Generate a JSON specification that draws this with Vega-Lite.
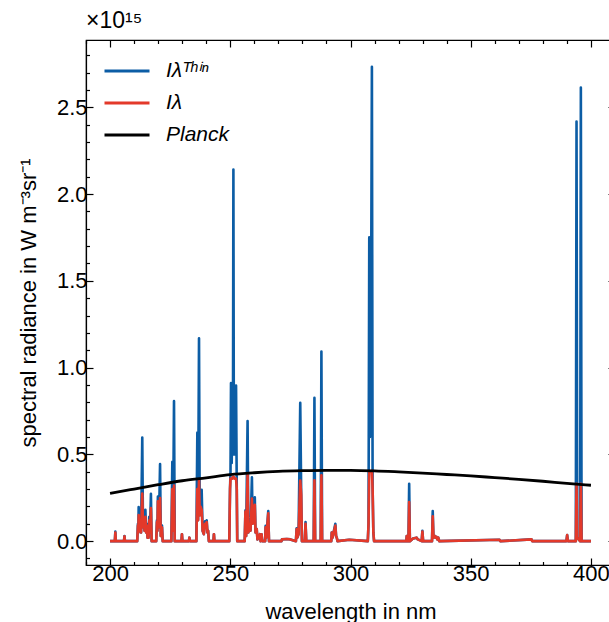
{
  "$schema": "https://vega.github.io/schema/vega-lite/v6.json",
  "autosize": {"type": "none"},
  "padding": {"left": 86, "top": 40, "right": 0, "bottom": 57},
  "width": 529,
  "height": 525,
  "title": {"text": "×10¹⁵", "anchor": "start", "frame": "group", "offset": 6, "fontSize": 23, "fontWeight": "normal", "font": "Liberation Sans", "color": "black"},
  "datasets": {
    "spec": [
      {"wl": 200.0, "thin": 0, "i": 0},
      {"wl": 202.0, "thin": 0, "i": 0},
      {"wl": 202.2, "thin": 0.055, "i": 0.05},
      {"wl": 202.4, "thin": 0, "i": 0},
      {"wl": 205.8, "thin": 0, "i": 0},
      {"wl": 206.0, "thin": 0.03, "i": 0.028},
      {"wl": 206.2, "thin": 0, "i": 0},
      {"wl": 211.3, "thin": 0, "i": 0},
      {"wl": 211.6, "thin": 0.10, "i": 0.09},
      {"wl": 211.75, "thin": 0.05, "i": 0.05},
      {"wl": 211.9, "thin": 0.196, "i": 0.15},
      {"wl": 212.2, "thin": 0.06, "i": 0.06},
      {"wl": 212.6, "thin": 0.12, "i": 0.11},
      {"wl": 212.9, "thin": 0.05, "i": 0.05},
      {"wl": 213.4, "thin": 0.597, "i": 0.274},
      {"wl": 213.7, "thin": 0.08, "i": 0.08},
      {"wl": 214.0, "thin": 0.15, "i": 0.13},
      {"wl": 214.35, "thin": 0.06, "i": 0.06},
      {"wl": 214.7, "thin": 0.18, "i": 0.14},
      {"wl": 215.0, "thin": 0.05, "i": 0.05},
      {"wl": 215.3, "thin": 0.10, "i": 0.09},
      {"wl": 215.6, "thin": 0.02, "i": 0.02},
      {"wl": 216.0, "thin": 0.02, "i": 0.02},
      {"wl": 216.3, "thin": 0.14, "i": 0.12},
      {"wl": 216.6, "thin": 0.05, "i": 0.05},
      {"wl": 217.0, "thin": 0.273, "i": 0.19},
      {"wl": 217.3, "thin": 0, "i": 0},
      {"wl": 219.2, "thin": 0, "i": 0},
      {"wl": 219.5, "thin": 0.12, "i": 0.11},
      {"wl": 219.7, "thin": 0.06, "i": 0.06},
      {"wl": 219.9, "thin": 0.257, "i": 0.23},
      {"wl": 220.3, "thin": 0.08, "i": 0.08},
      {"wl": 220.8, "thin": 0.444, "i": 0.248},
      {"wl": 221.1, "thin": 0.03, "i": 0.03},
      {"wl": 221.6, "thin": 0.09, "i": 0.08},
      {"wl": 221.9, "thin": 0, "i": 0},
      {"wl": 225.5, "thin": 0, "i": 0},
      {"wl": 225.9, "thin": 0.457, "i": 0.30},
      {"wl": 226.2, "thin": 0.06, "i": 0.06},
      {"wl": 226.6, "thin": 0.807, "i": 0.32},
      {"wl": 226.9, "thin": 0, "i": 0},
      {"wl": 229.7, "thin": 0, "i": 0},
      {"wl": 229.9, "thin": 0.04, "i": 0.04},
      {"wl": 230.1, "thin": 0, "i": 0},
      {"wl": 232.8, "thin": 0, "i": 0},
      {"wl": 233.0, "thin": 0.02, "i": 0.02},
      {"wl": 233.2, "thin": 0, "i": 0},
      {"wl": 235.9, "thin": 0, "i": 0},
      {"wl": 236.3, "thin": 0.625, "i": 0.30},
      {"wl": 236.6, "thin": 0.12, "i": 0.12},
      {"wl": 237.0, "thin": 1.169, "i": 0.355},
      {"wl": 237.3, "thin": 0.15, "i": 0.15},
      {"wl": 237.6, "thin": 0.2, "i": 0.2},
      {"wl": 238.1, "thin": 0.296, "i": 0.18},
      {"wl": 238.5, "thin": 0.06, "i": 0.06},
      {"wl": 239.0, "thin": 0.04, "i": 0.04},
      {"wl": 239.5, "thin": 0.114, "i": 0.10},
      {"wl": 239.8, "thin": 0.08, "i": 0.08},
      {"wl": 240.2, "thin": 0.12, "i": 0.11},
      {"wl": 240.5, "thin": 0.05, "i": 0.05},
      {"wl": 240.8, "thin": 0.06, "i": 0.06},
      {"wl": 241.1, "thin": 0, "i": 0},
      {"wl": 243.0, "thin": 0, "i": 0},
      {"wl": 243.2, "thin": 0.04, "i": 0.04},
      {"wl": 243.4, "thin": 0, "i": 0},
      {"wl": 249.6, "thin": 0, "i": 0},
      {"wl": 249.9, "thin": 0.30, "i": 0.30},
      {"wl": 250.1, "thin": 0.4, "i": 0.36},
      {"wl": 250.3, "thin": 0.911, "i": 0.36},
      {"wl": 250.6, "thin": 0.45, "i": 0.36},
      {"wl": 250.9, "thin": 0.88, "i": 0.36},
      {"wl": 251.1, "thin": 0.5, "i": 0.37},
      {"wl": 251.3, "thin": 2.141, "i": 0.37},
      {"wl": 251.5, "thin": 0.5, "i": 0.37},
      {"wl": 251.8, "thin": 0.86, "i": 0.36},
      {"wl": 252.1, "thin": 0.5, "i": 0.36},
      {"wl": 252.4, "thin": 0.896, "i": 0.36},
      {"wl": 252.7, "thin": 0.3, "i": 0.3},
      {"wl": 252.9, "thin": 0, "i": 0},
      {"wl": 256.0, "thin": 0, "i": 0},
      {"wl": 256.3, "thin": 0.177, "i": 0.17},
      {"wl": 256.6, "thin": 0.03, "i": 0.03},
      {"wl": 257.2, "thin": 0.692, "i": 0.387},
      {"wl": 257.5, "thin": 0.05, "i": 0.05},
      {"wl": 258.0, "thin": 0.10, "i": 0.09},
      {"wl": 258.4, "thin": 0.06, "i": 0.06},
      {"wl": 259.0, "thin": 0.368, "i": 0.245},
      {"wl": 259.3, "thin": 0.10, "i": 0.10},
      {"wl": 259.8, "thin": 0.15, "i": 0.14},
      {"wl": 260.2, "thin": 0.253, "i": 0.21},
      {"wl": 260.5, "thin": 0.05, "i": 0.05},
      {"wl": 261.0, "thin": 0.07, "i": 0.07},
      {"wl": 261.3, "thin": 0.01, "i": 0.01},
      {"wl": 262.3, "thin": 0.04, "i": 0.04},
      {"wl": 262.6, "thin": 0, "i": 0},
      {"wl": 263.0, "thin": 0.04, "i": 0.04},
      {"wl": 263.3, "thin": 0, "i": 0},
      {"wl": 264.5, "thin": 0, "i": 0},
      {"wl": 264.7, "thin": 0.088, "i": 0.08},
      {"wl": 265.0, "thin": 0.02, "i": 0.02},
      {"wl": 265.8, "thin": 0.173, "i": 0.16},
      {"wl": 266.1, "thin": 0, "i": 0},
      {"wl": 271.3, "thin": 0, "i": 0},
      {"wl": 271.5, "thin": 0.01, "i": 0.01},
      {"wl": 273.5, "thin": 0.012, "i": 0.012},
      {"wl": 275.0, "thin": 0.01, "i": 0.01},
      {"wl": 277.3, "thin": 0, "i": 0},
      {"wl": 277.6, "thin": 0.074, "i": 0.07},
      {"wl": 277.9, "thin": 0.02, "i": 0.02},
      {"wl": 278.4, "thin": 0.04, "i": 0.04},
      {"wl": 279.1, "thin": 0.797, "i": 0.349},
      {"wl": 279.5, "thin": 0.27, "i": 0.27},
      {"wl": 279.8, "thin": 0, "i": 0},
      {"wl": 281.0, "thin": 0, "i": 0},
      {"wl": 281.3, "thin": 0.11, "i": 0.10},
      {"wl": 281.6, "thin": 0, "i": 0},
      {"wl": 284.7, "thin": 0, "i": 0},
      {"wl": 285.0, "thin": 0.826, "i": 0.35},
      {"wl": 285.3, "thin": 0, "i": 0},
      {"wl": 287.6, "thin": 0, "i": 0},
      {"wl": 287.9, "thin": 1.093, "i": 0.38},
      {"wl": 288.2, "thin": 0, "i": 0},
      {"wl": 292.0, "thin": 0, "i": 0},
      {"wl": 292.2, "thin": 0.05, "i": 0.05},
      {"wl": 292.5, "thin": 0.02, "i": 0.02},
      {"wl": 293.7, "thin": 0.10, "i": 0.09},
      {"wl": 294.0, "thin": 0.03, "i": 0.03},
      {"wl": 294.3, "thin": 0.02, "i": 0.02},
      {"wl": 294.6, "thin": 0, "i": 0},
      {"wl": 299.5, "thin": 0.008, "i": 0.008},
      {"wl": 307.2, "thin": 0, "i": 0},
      {"wl": 307.5, "thin": 0.1, "i": 0.1},
      {"wl": 307.8, "thin": 1.75, "i": 0.40},
      {"wl": 308.1, "thin": 0.6, "i": 0.40},
      {"wl": 308.4, "thin": 0.7, "i": 0.40},
      {"wl": 308.9, "thin": 2.733, "i": 0.405},
      {"wl": 309.2, "thin": 0.3, "i": 0.3},
      {"wl": 309.5, "thin": 0.05, "i": 0.05},
      {"wl": 309.8, "thin": 0, "i": 0},
      {"wl": 323.2, "thin": 0, "i": 0},
      {"wl": 323.4, "thin": 0.03, "i": 0.03},
      {"wl": 323.7, "thin": 0, "i": 0},
      {"wl": 324.1, "thin": 0, "i": 0},
      {"wl": 324.4, "thin": 0.33, "i": 0.225},
      {"wl": 324.7, "thin": 0, "i": 0},
      {"wl": 326.0, "thin": 0.015, "i": 0.015},
      {"wl": 327.5, "thin": 0.02, "i": 0.02},
      {"wl": 328.0, "thin": 0.01, "i": 0.01},
      {"wl": 329.6, "thin": 0, "i": 0},
      {"wl": 329.9, "thin": 0.059, "i": 0.055},
      {"wl": 330.2, "thin": 0, "i": 0},
      {"wl": 333.9, "thin": 0, "i": 0},
      {"wl": 334.2, "thin": 0.173, "i": 0.143},
      {"wl": 334.5, "thin": 0.02, "i": 0.02},
      {"wl": 335.0, "thin": 0.03, "i": 0.03},
      {"wl": 335.4, "thin": 0.02, "i": 0.02},
      {"wl": 335.7, "thin": 0.025, "i": 0.025},
      {"wl": 336.1, "thin": 0.01, "i": 0.01},
      {"wl": 336.5, "thin": 0.02, "i": 0.02},
      {"wl": 336.9, "thin": 0, "i": 0},
      {"wl": 362.0, "thin": 0.008, "i": 0.008},
      {"wl": 362.3, "thin": 0, "i": 0},
      {"wl": 375.3, "thin": 0.01, "i": 0.01},
      {"wl": 375.6, "thin": 0, "i": 0},
      {"wl": 389.8, "thin": 0, "i": 0},
      {"wl": 390.1, "thin": 0.035, "i": 0.035},
      {"wl": 390.4, "thin": 0, "i": 0},
      {"wl": 393.7, "thin": 0, "i": 0},
      {"wl": 394.0, "thin": 2.418, "i": 0.33},
      {"wl": 394.3, "thin": 0.02, "i": 0.02},
      {"wl": 395.5, "thin": 0, "i": 0},
      {"wl": 395.8, "thin": 2.614, "i": 0.33},
      {"wl": 396.1, "thin": 0, "i": 0},
      {"wl": 400.0, "thin": 0, "i": 0}
    ],
    "planck": [
      {"wl": 200, "planck": 0.275},
      {"wl": 210, "planck": 0.300},
      {"wl": 220, "planck": 0.325},
      {"wl": 230, "planck": 0.348},
      {"wl": 240, "planck": 0.365},
      {"wl": 250, "planck": 0.383},
      {"wl": 260, "planck": 0.394},
      {"wl": 270, "planck": 0.402},
      {"wl": 280, "planck": 0.406},
      {"wl": 290, "planck": 0.408},
      {"wl": 300, "planck": 0.408},
      {"wl": 310, "planck": 0.405},
      {"wl": 320, "planck": 0.399},
      {"wl": 330, "planck": 0.392},
      {"wl": 340, "planck": 0.384},
      {"wl": 350, "planck": 0.376},
      {"wl": 360, "planck": 0.366},
      {"wl": 370, "planck": 0.356},
      {"wl": 380, "planck": 0.345},
      {"wl": 390, "planck": 0.333},
      {"wl": 400, "planck": 0.322}
    ]
  },
  "layer": [
    {
      "data": {"name": "spec"},
      "mark": {"type": "line", "strokeWidth": 2.6, "strokeJoin": "round", "clip": true},
      "encoding": {
        "x": {
          "field": "wl", "type": "quantitative",
          "scale": {"domain": [190, 410], "nice": false, "zero": false},
          "axis": {
            "orient": "bottom",
            "title": "wavelength in nm",
            "values": [190, 200, 210, 220, 230, 240, 250, 260, 270, 280, 290, 300, 310, 320, 330, 340, 350, 360, 370, 380, 390, 400, 410],
            "labelExpr": "datum.value % 50 === 0 ? format(datum.value, 'd') : ''",
            "tickSize": {"condition": {"test": "datum.value % 50 === 0", "value": -7}, "value": -3.5},
            "labelPadding": 5,
            "titlePadding": 14
          }
        },
        "y": {
          "field": "thin", "type": "quantitative",
          "scale": {"domain": [-0.1375, 2.8875], "nice": false, "zero": false},
          "axis": {
            "orient": "left",
            "title": "spectral radiance in W m⁻³sr⁻¹",
            "values": [-0.1, 0, 0.1, 0.2, 0.3, 0.4, 0.5, 0.6, 0.7, 0.8, 0.9, 1.0, 1.1, 1.2, 1.3, 1.4, 1.5, 1.6, 1.7, 1.8, 1.9, 2.0, 2.1, 2.2, 2.3, 2.4, 2.5, 2.6, 2.7, 2.8],
            "labelExpr": "abs(datum.value * 2 - round(datum.value * 2)) < 0.001 ? format(datum.value, '.1f') : ''",
            "tickSize": {"condition": {"test": "abs(datum.value * 2 - round(datum.value * 2)) < 0.001", "value": -7}, "value": -3.5},
            "labelPadding": 6,
            "titlePadding": 16
          }
        },
        "color": {
          "datum": "Iλᵀʰⁱⁿ",
          "scale": {"domain": ["Iλᵀʰⁱⁿ", "Iλ", "Planck"], "range": ["#0C5DA5", "#E3392A", "#000000"]},
          "legend": {
            "title": null,
            "orient": "none",
            "legendX": 17,
            "legendY": 16,
            "symbolType": "stroke",
            "symbolSize": 2025,
            "symbolStrokeWidth": 3,
            "labelFont": "Liberation Sans",
            "labelFontSize": 21,
            "labelFontStyle": "italic",
            "labelColor": "black",
            "labelOffset": 15,
            "clipHeight": 30,
            "rowPadding": 2
          }
        }
      }
    },
    {
      "data": {"name": "spec"},
      "mark": {"type": "line", "strokeWidth": 2.6, "strokeJoin": "round", "clip": true},
      "encoding": {
        "x": {
          "field": "wl", "type": "quantitative",
          "axis": {
            "orient": "top",
            "title": null,
            "labels": false,
            "values": [190, 200, 210, 220, 230, 240, 250, 260, 270, 280, 290, 300, 310, 320, 330, 340, 350, 360, 370, 380, 390, 400, 410],
            "tickSize": {"condition": {"test": "datum.value % 50 === 0", "value": -7}, "value": -3.5}
          }
        },
        "y": {
          "field": "i", "type": "quantitative",
          "axis": {
            "orient": "right",
            "title": null,
            "labels": false,
            "values": [-0.1, 0, 0.1, 0.2, 0.3, 0.4, 0.5, 0.6, 0.7, 0.8, 0.9, 1.0, 1.1, 1.2, 1.3, 1.4, 1.5, 1.6, 1.7, 1.8, 1.9, 2.0, 2.1, 2.2, 2.3, 2.4, 2.5, 2.6, 2.7, 2.8],
            "tickSize": {"condition": {"test": "abs(datum.value * 2 - round(datum.value * 2)) < 0.001", "value": -7}, "value": -3.5}
          }
        },
        "color": {"datum": "Iλ"}
      }
    },
    {
      "data": {"name": "planck"},
      "mark": {"type": "line", "strokeWidth": 2.8, "interpolate": "monotone", "clip": true},
      "encoding": {
        "x": {"field": "wl", "type": "quantitative", "axis": null},
        "y": {"field": "planck", "type": "quantitative", "axis": null},
        "color": {"datum": "Planck"}
      }
    }
  ],
  "resolve": {"axis": {"x": "independent", "y": "independent"}},
  "config": {
    "view": {"stroke": "black", "strokeWidth": 1.2},
    "axis": {
      "grid": false,
      "domainColor": "black",
      "domainWidth": 1.2,
      "tickColor": "black",
      "tickWidth": 1.2,
      "labelFont": "Liberation Sans",
      "labelFontSize": 22,
      "labelColor": "black",
      "labelFlush": false,
      "labelOverlap": false,
      "titleFont": "Liberation Sans",
      "titleFontSize": 22,
      "titleFontWeight": "normal",
      "titleColor": "black"
    }
  }
}
